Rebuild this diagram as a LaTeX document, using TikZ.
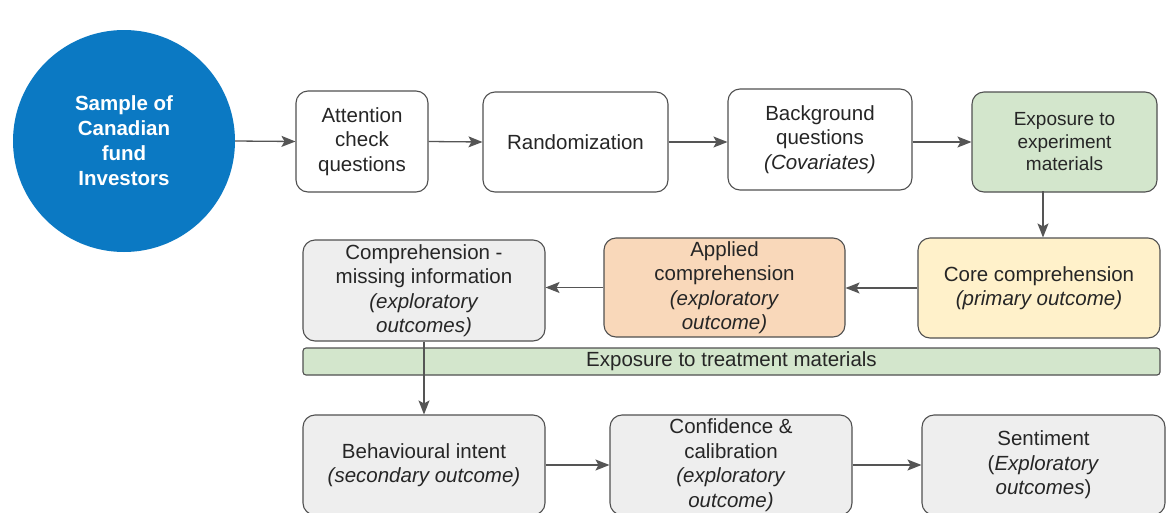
\documentclass[tikz,border=0pt]{standalone}
\usepackage{fontspec}
\setmainfont{Liberation Sans}
\usetikzlibrary{arrows.meta}
\definecolor{circblue}{HTML}{0B79C3}
\definecolor{edgegray}{HTML}{505050}
\definecolor{greenfill}{HTML}{D3E6CC}
\definecolor{peachfill}{HTML}{F9D8BA}
\definecolor{yellowfill}{HTML}{FFF1CA}
\definecolor{grayfill}{HTML}{EEEEEE}
\definecolor{arrowgray}{HTML}{555555}
\tikzset{
  box/.style={draw=edgegray, line width=1.1pt, rounded corners=12pt, align=center, inner sep=2pt,
    font=\fontsize{20.5}{24.5}\selectfont, text=black!85},
  conn/.style={draw=arrowgray, line width=1.3pt, -{Stealth[length=14pt,width=11pt,inset=3pt]}},
}
\begin{document}
\begin{tikzpicture}[x=1pt,y=-1pt]
\useasboundingbox (0,0) rectangle (1173,512);
\clip (0,0) rectangle (1173,512);
\fill[white] (0,0) rectangle (1173,512);
% start circle
\node[circle, fill=circblue, minimum size=222pt, inner sep=0pt, align=center, text=white,
  font=\bfseries\fontsize{20.5}{25}\selectfont] (circ) at (124,141) {Sample of\\Canadian\\fund\\Investors};
% top row
\node[box, minimum width=132pt, minimum height=101pt] (att) at (362,141.5) {Attention\\check\\questions};
\node[box, minimum width=185pt, minimum height=100pt] (rand) at (575.5,142) {Randomization};
\node[box, minimum width=184pt, minimum height=101pt] (back) at (820,139.5) {Background\\questions\\\textit{(Covariates)}};
\node[box, fill=greenfill, minimum width=185pt, minimum height=100pt,
  font=\fontsize{19}{22.5}\selectfont] (expo) at (1064.5,142) {Exposure to\\experiment\\materials};
% middle row
\node[box, fill=yellowfill, minimum width=242pt, minimum height=100pt] (core) at (1039,288) {Core comprehension\\\textit{(primary outcome)}};
\node[box, fill=peachfill, minimum width=241pt, minimum height=99pt] (appl) at (724.5,287.5) {Applied\\comprehension\\\textit{(exploratory}\\\textit{outcome)}};
\node[box, fill=grayfill, minimum width=242pt, minimum height=101pt] (miss) at (424,290.5) {Comprehension -\\missing information\\\textit{(exploratory}\\\textit{outcomes)}};
% band
\node[box, fill=greenfill, rounded corners=3pt, minimum width=857pt, minimum height=27pt] (band) at (731.5,361.5) {Exposure to treatment materials};
% bottom row
\node[box, fill=grayfill, minimum width=242pt, minimum height=100pt] (beh) at (424,465) {Behavioural intent\\\textit{(secondary outcome)}};
\node[box, fill=grayfill, minimum width=242pt, minimum height=100pt] (conf) at (731,465) {Confidence \&\\calibration\\\textit{(exploratory}\\\textit{outcome)}};
\node[box, fill=grayfill, minimum width=243pt, minimum height=100pt] (sent) at (1043.5,465) {Sentiment\\(\textit{Exploratory}\\\textit{outcomes})};
% connectors
\draw[conn] (circ.east) -- (att.west);
\draw[conn] (att.east) -- (rand.west);
\draw[conn] (rand.east) -- (back.west |- rand.east);
\draw[conn] (back.east |- expo.west) -- (expo.west);
\draw[conn] (core.north -| 1043,0) ++(0,-46) -- (core.north -| 1043,0);
\draw[conn] (core.west) -- (appl.east |- core.west);
\draw[conn] (appl.west) -- (miss.east |- appl.west);
\draw[conn] (miss.south) -- (beh.north);
\draw[conn] (beh.east) -- (conf.west);
\draw[conn] (conf.east) -- (sent.west);
\end{tikzpicture}
\end{document}
